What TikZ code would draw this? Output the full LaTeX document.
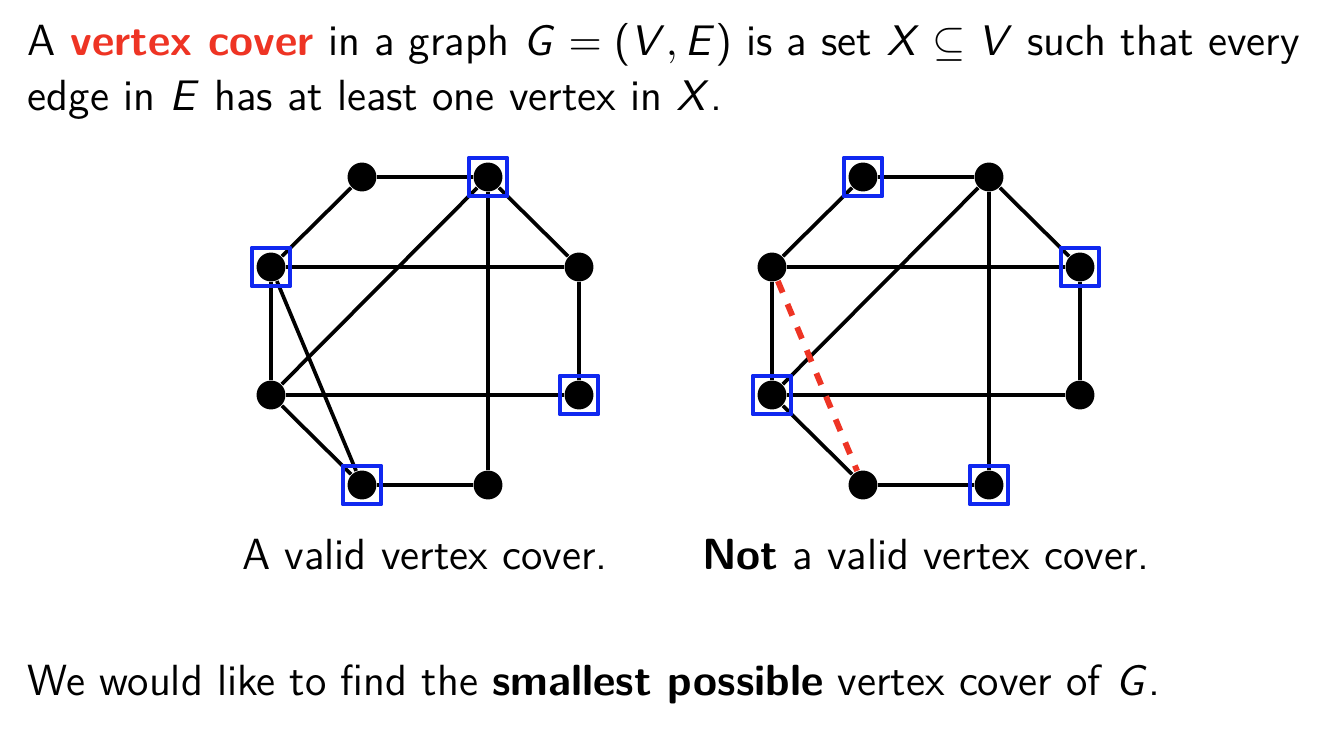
\documentclass[tikz,border=0pt]{standalone}
\usepackage{amsmath,amssymb}
\usepackage{tikz}
\usetikzlibrary{positioning}
\renewcommand{\familydefault}{\sfdefault}
\SetSymbolFont{operators}{normal}{OT1}{cmss}{m}{n}
\DeclareMathAlphabet{\mathsfit}{OT1}{cmss}{m}{sl}
\newcommand{\sv}[1]{\mathsfit{#1}}
\definecolor{alertred}{RGB}{238,52,36}
\definecolor{coverblue}{RGB}{16,40,240}

\tikzset{
  vert/.style={circle,fill=black,inner sep=0pt,minimum size=7.4pt},
  chosen/.style={draw=coverblue,line width=1.05pt,inner sep=0pt,minimum size=9.9pt},
  link/.style={line width=.95pt},
  missed/.style={draw=alertred,line width=1.5pt,dash pattern=on 3.2pt off 3.2pt},
  txt/.style={font=\fontsize{11.17}{13.6}\selectfont,inner sep=0pt},
}

\begin{document}
\begin{tikzpicture}[x=0.009cm,y=-0.009cm,line cap=butt,line join=round]
\path[use as bounding box] (0,0) rectangle (1334,730);
% the two copies of the graph
\foreach \n/\dx/\dy in {1/-63/-154,2/63/-154,3/-154/-64,4/154/-64,5/-154/64,6/154/64,7/-63/154,8/63/154}{
  \node[vert] (a\n) at (425+\dx,331+\dy) {};
  \node[vert] (b\n) at (926+\dx,331+\dy) {};
}
\foreach \u/\v in {3/1,1/2,2/4,2/5,2/8,3/4,4/6,3/5,3/7,5/6,5/7,7/8}
  \draw[link] (a\u) -- (a\v);
\foreach \u/\v in {3/1,1/2,2/4,2/5,2/8,3/4,4/6,3/5,5/6,5/7,7/8}
  \draw[link] (b\u) -- (b\v);
\draw[missed] (b3) -- (b7);
% chosen vertices
\foreach \n in {2,3,6,7}
  \node[chosen] (ac\n) at (a\n) {};
\foreach \n in {1,4,5,8}
  \node[chosen] (bc\n) at (b\n) {};
% texts
\node[txt,anchor=base west] (def1) at (27,55) {A \textcolor{alertred}{\textbf{vertex cover}} in a graph $\sv{G}=(\sv{V},\sv{E})$ is a set $\sv{X}\subseteq\sv{V}$ such that every};
\node[txt,anchor=base west] (def2) at (27,110) {edge in $\sv{E}$ has at least one vertex in $\sv{X}$.};
\node[txt,anchor=base] (capa) at (425,569) {A valid vertex cover.};
\node[txt,anchor=base] (capb) at (926,569) {\textbf{Not} a valid vertex cover.};
\node[txt,anchor=base west] (goal) at (27,695) {We would like to find the \textbf{smallest possible} vertex cover of $\sv{G}$.};
\end{tikzpicture}
\end{document}
